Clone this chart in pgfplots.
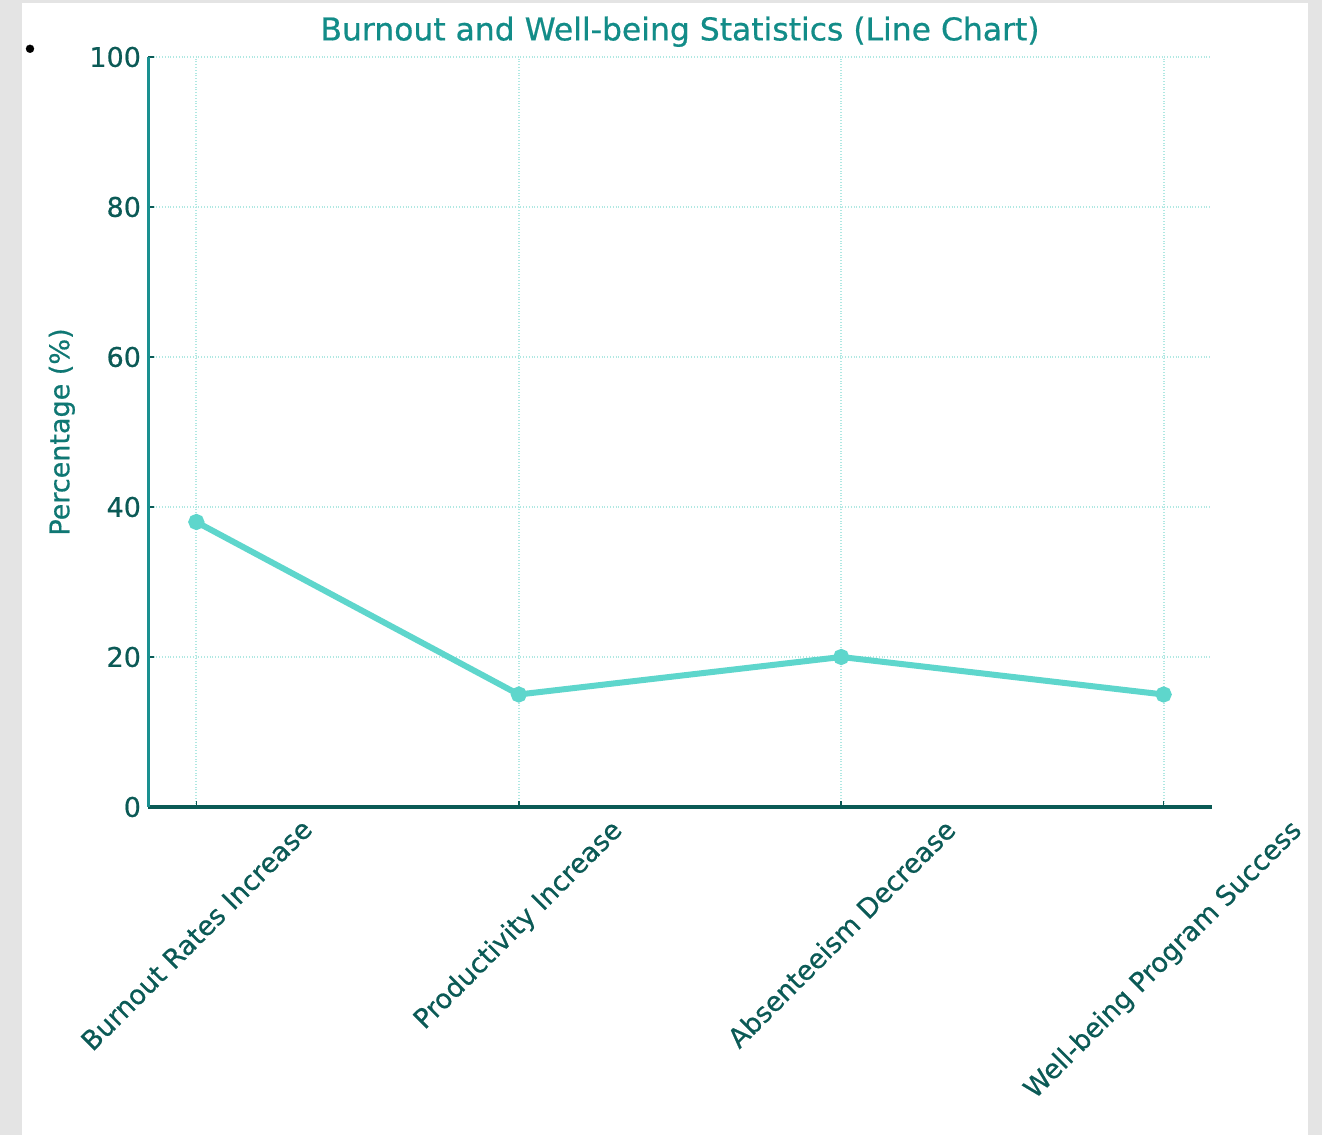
\documentclass[border=0pt]{standalone}
\usepackage{pgfplots}
\pgfplotsset{compat=1.18}
\usepackage{fontspec}
\setmainfont{DejaVu Sans}[FakeBold=0.6]
\definecolor{bgGray}{HTML}{E4E4E4}
\definecolor{titleC}{HTML}{128C88}
\definecolor{ylabC}{HTML}{0F7773}
\definecolor{tickC}{HTML}{0B5A56}
\definecolor{lineC}{HTML}{5ED6CC}
\definecolor{gridC}{HTML}{B0E8E2}
\definecolor{spineL}{HTML}{1A9090}
\definecolor{spineB}{HTML}{0A5A55}
\begin{document}
\begin{tikzpicture}[x=1pt,y=1pt]
\fill[bgGray] (0,0) rectangle (661,567.5);
\fill[white] (11,0) rectangle (654,566);
\node[font=\fontsize{14}{14}\selectfont] at (15,541.5) {•};
\begin{axis}[
  at={(74pt,164pt)}, anchor=south west,
  scale only axis,
  width=532pt, height=375pt,
  xmin=-0.15, xmax=3.15, ymin=0, ymax=100,
  axis lines=left,
  axis line style={-},
  x axis line style={draw=spineB, line width=2pt},
  y axis line style={draw=spineL, line width=1.5pt},
  xtick={0,1,2,3},
  xticklabels={\rotatebox{45}{Burnout Rates Increase},\rotatebox{45}{Productivity Increase},\rotatebox{45}{Absenteeism Decrease},\rotatebox{45}{Well-being Program Success}},
  xticklabel style={anchor=north, font=\fontsize{13.4}{13.4}\selectfont, text=tickC, inner sep=2pt, yshift=-3pt},
  ytick={0,20,40,60,80,100},
  yticklabel style={font=\fontsize{13.5}{13.5}\selectfont, text=tickC},
  /pgf/number format/assume math mode=true,
  tick style={draw=tickC, line width=0.8pt},
  major tick length=3pt,
  tick align=inside,
  grid=major,
  major grid style={draw=gridC, densely dotted, line width=1pt},
  title={Burnout and Well-being Statistics (Line Chart)},
  title style={font=\fontsize{15.7}{15.7}\selectfont, text=titleC, yshift=-4.5pt},
  ylabel={Percentage (\%)},
  ylabel style={at={(axis description cs:-0.081,0.5)}, anchor=center, font=\fontsize{13.5}{13.5}\selectfont, text=ylabC},
]
\addplot[color=lineC, line width=3pt, mark=*, mark size=2.5pt, mark options={fill=lineC, draw=lineC}] coordinates {
  (0,38) (1,15) (2,20) (3,15)
};
\end{axis}
\pgfresetboundingbox
\path (0,0) rectangle (661,567.5);
\end{tikzpicture}
\end{document}
